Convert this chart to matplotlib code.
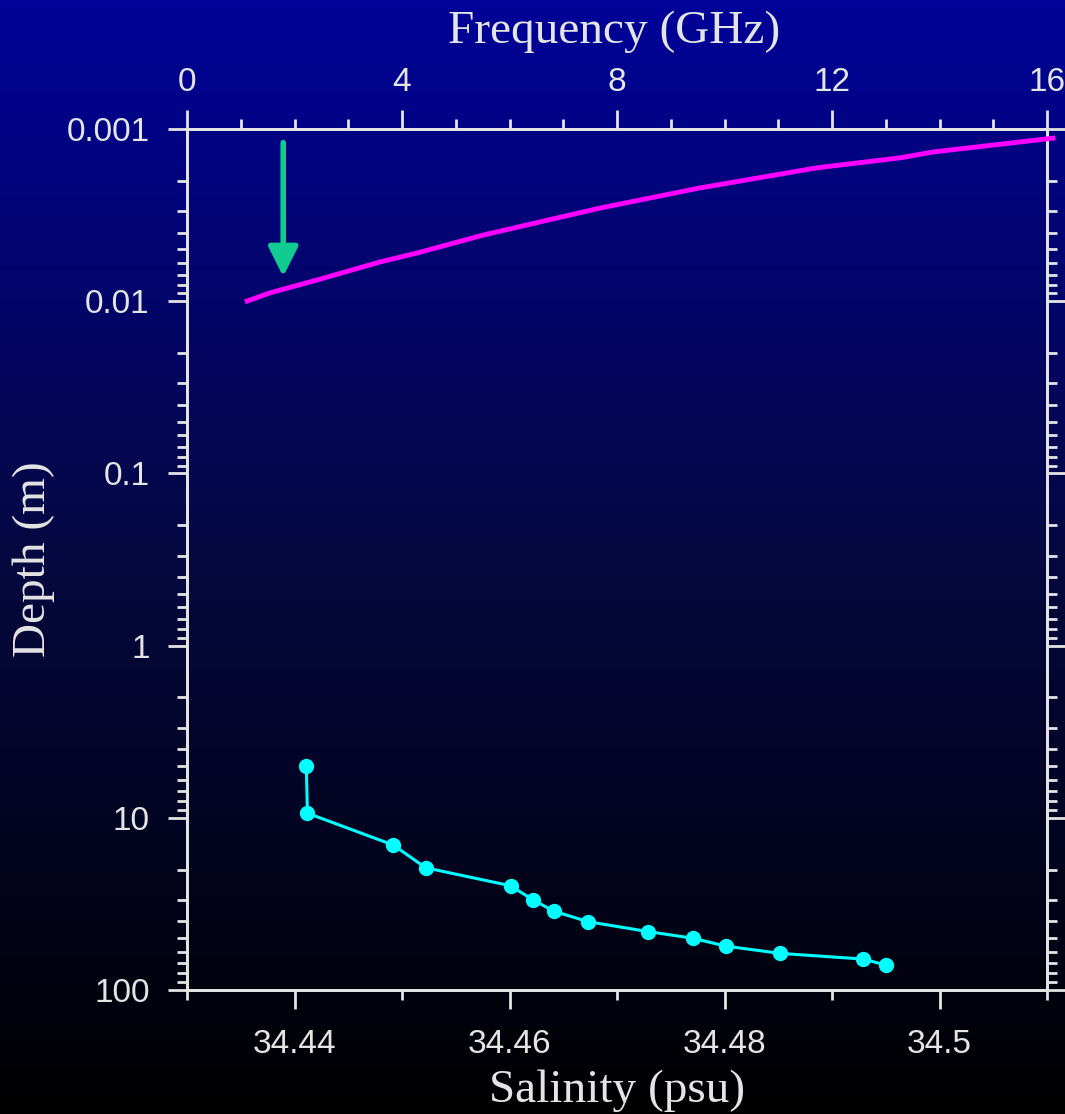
import numpy as np
import matplotlib
matplotlib.use("Agg")
import matplotlib.pyplot as plt
from matplotlib.colors import LinearSegmentedColormap

# salinity profile (psu vs depth in m)
salinity = [34.4411, 34.4412, 34.4492, 34.4522, 34.4601, 34.4622, 34.4641,
            34.4673, 34.4729, 34.4771, 34.4801, 34.4852, 34.4929, 34.4950]
sal_depth = [5.0, 9.4, 14.4, 19.5, 24.8, 30.0, 34.8,
             40.1, 45.8, 50.1, 55.6, 61.3, 66.1, 71.6]

# penetration depth vs frequency (GHz)
freq = [1.12, 1.54, 2.42, 3.59, 4.28, 5.51, 7.68, 9.54, 11.72, 13.27, 13.88, 16.11]
freq_depth = [0.00998, 0.00895, 0.00753, 0.00592, 0.00525, 0.00413, 0.00288,
              0.0022, 0.00168, 0.00147, 0.00136, 0.00113]

# arrow (frequency, depth)
arrow_x = 1.79
arrow_from = 0.0012
arrow_to = 0.0072

txt = '#e4e4e4'
sans = 'Liberation Sans'
serif = 'Liberation Serif'

fig = plt.figure(figsize=(10.65, 11.14), dpi=100)

# background gradient, blue at top -> black at bottom
bg = fig.add_axes([0, 0, 1, 1], zorder=-10)
cmap = LinearSegmentedColormap.from_list('bg', [(0, 0, 0), (0.02, 0.03, 0.25), (0.0, 0.01, 0.6)])
bg.imshow(np.linspace(0, 1, 256).reshape(-1, 1)[::-1], aspect='auto', cmap=cmap,
          extent=[0, 1, 0, 1])
bg.axis('off')

ax = fig.add_axes([0.1756, 0.1113, 0.8075, 0.7729])
ax.patch.set_alpha(0)
ax.plot(salinity, sal_depth, color='#00ffff', lw=2.2, marker='o', ms=10,
        clip_on=False, zorder=5)
ax.set_yscale('log')
ax.set_ylim(100, 0.001)
ax.set_xlim(34.43, 34.51)
ax.set_xticks([34.44, 34.46, 34.48, 34.5])
ax.set_xticklabels(['34.44', '34.46', '34.48', '34.5'])
ax.set_xticks([34.43, 34.45, 34.47, 34.49, 34.51], minor=True)
ax.set_yticks([0.001, 0.01, 0.1, 1, 10, 100])
ax.set_yticklabels(['0.001', '0.01', '0.1', '1', '10', '100'])
ax.tick_params(which='both', direction='out', color=txt, width=2,
               labelcolor=txt, labelsize=24, right=True)
ax.tick_params(which='major', length=14, pad=13)
ax.tick_params(which='minor', length=7)
ax.tick_params(axis='x', which='major', pad=14)
for lab in ax.get_xticklabels() + ax.get_yticklabels():
    lab.set_fontfamily(sans)
for s in ax.spines.values():
    s.set_color(txt)
    s.set_linewidth(2)
ax.set_xlabel('Salinity (psu)', fontsize=34, color=txt, family=serif)
ax.xaxis.set_label_coords(0.5, -0.092)
ax.set_ylabel('Depth (m)', fontsize=34, color=txt, family=serif)
ax.yaxis.set_label_coords(-0.153, 0.5)

ax2 = ax.twiny()
ax2.patch.set_alpha(0)
ax2.plot(freq, freq_depth, color='#ff00ff', lw=3.5, clip_on=False, zorder=5)
ax2.set_xlim(0, 16)
ax2.set_xticks([0, 4, 8, 12, 16])
ax2.set_xticks(np.arange(0, 17, 1), minor=True)
ax2.tick_params(which='both', direction='out', color=txt, width=2,
                labelcolor=txt, labelsize=24)
ax2.tick_params(which='major', length=14, pad=8)
ax2.tick_params(which='minor', length=7)
for lab in ax2.get_xticklabels():
    lab.set_fontfamily(sans)
for s in ax2.spines.values():
    s.set_color(txt)
    s.set_linewidth(2)
ax2.set_xlabel('Frequency (GHz)', fontsize=34, color=txt, family=serif)
ax2.xaxis.set_label_coords(0.497, 1.1)
ax2.annotate('', xy=(arrow_x, arrow_to), xytext=(arrow_x, arrow_from),
             arrowprops=dict(arrowstyle='-|>,head_width=0.9,head_length=1.8',
                             color='#10cc90', lw=4, shrinkA=0, shrinkB=0))

fig.savefig('out.png', dpi=100)
